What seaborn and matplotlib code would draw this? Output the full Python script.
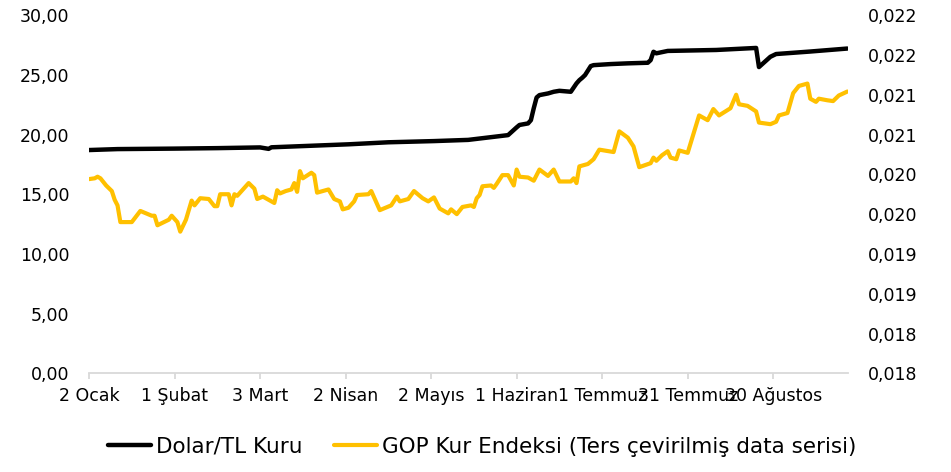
import pandas as pd
import seaborn as sns
import matplotlib.pyplot as plt

# Dolar/TL kuru (sol eksen)
dolar_tarih = [
    '2023-01-02', '2023-01-12', '2023-02-01', '2023-02-16', '2023-03-03', '2023-03-06', '2023-03-07', '2023-04-03', '2023-04-17', '2023-05-03',
    '2023-05-15', '2023-05-29', '2023-06-01', '2023-06-02', '2023-06-05', '2023-06-06', '2023-06-07', '2023-06-08', '2023-06-09', '2023-06-12',
    '2023-06-14', '2023-06-16', '2023-06-20', '2023-06-22', '2023-06-23', '2023-06-24', '2023-06-25', '2023-06-27', '2023-06-28', '2023-07-04',
    '2023-07-10', '2023-07-17', '2023-07-18', '2023-07-19', '2023-07-20', '2023-07-24', '2023-08-10', '2023-08-24', '2023-08-25', '2023-08-29',
    '2023-08-31', '2023-09-12', '2023-09-25',
]
dolar_tl = [
    18.70, 18.78, 18.82, 18.86, 18.92, 18.80, 18.93, 19.18, 19.35, 19.45,
    19.55, 19.95, 20.60, 20.80, 20.93, 21.20, 22.20, 23.10, 23.30, 23.44,
    23.58, 23.66, 23.58, 24.28, 24.55, 24.75, 24.98, 25.73, 25.81, 25.90,
    25.96, 26.01, 26.23, 26.93, 26.80, 27.00, 27.08, 27.25, 25.65, 26.51,
    26.74, 26.95, 27.20,
]

# GOP kur endeksi, ters cevrilmis (sag eksen)
gop_tarih = [
    '2023-01-02', '2023-01-04', '2023-01-05', '2023-01-06', '2023-01-08', '2023-01-10', '2023-01-11', '2023-01-12', '2023-01-13', '2023-01-17',
    '2023-01-20', '2023-01-22', '2023-01-24', '2023-01-25', '2023-01-26', '2023-01-30', '2023-01-31', '2023-02-02', '2023-02-03', '2023-02-05',
    '2023-02-07', '2023-02-08', '2023-02-10', '2023-02-13', '2023-02-15', '2023-02-16', '2023-02-17', '2023-02-20', '2023-02-21', '2023-02-22',
    '2023-02-23', '2023-02-27', '2023-03-01', '2023-03-02', '2023-03-04', '2023-03-08', '2023-03-09', '2023-03-10', '2023-03-12', '2023-03-14',
    '2023-03-15', '2023-03-16', '2023-03-17', '2023-03-18', '2023-03-21', '2023-03-22', '2023-03-23', '2023-03-27', '2023-03-29', '2023-03-31',
    '2023-04-01', '2023-04-03', '2023-04-05', '2023-04-06', '2023-04-10', '2023-04-11', '2023-04-14', '2023-04-18', '2023-04-20', '2023-04-21',
    '2023-04-24', '2023-04-26', '2023-04-29', '2023-05-01', '2023-05-03', '2023-05-05', '2023-05-08', '2023-05-09', '2023-05-11', '2023-05-13',
    '2023-05-16', '2023-05-17', '2023-05-18', '2023-05-19', '2023-05-20', '2023-05-23', '2023-05-24', '2023-05-25', '2023-05-27', '2023-05-29',
    '2023-05-31', '2023-06-01', '2023-06-02', '2023-06-05', '2023-06-07', '2023-06-09', '2023-06-12', '2023-06-14', '2023-06-16', '2023-06-20',
    '2023-06-21', '2023-06-22', '2023-06-23', '2023-06-26', '2023-06-28', '2023-06-30', '2023-07-05', '2023-07-07', '2023-07-10', '2023-07-12',
    '2023-07-14', '2023-07-18', '2023-07-19', '2023-07-20', '2023-07-22', '2023-07-24', '2023-07-25', '2023-07-27', '2023-07-28', '2023-07-31',
    '2023-08-04', '2023-08-07', '2023-08-09', '2023-08-11', '2023-08-15', '2023-08-17', '2023-08-18', '2023-08-21', '2023-08-24', '2023-08-25',
    '2023-08-29', '2023-08-31', '2023-09-01', '2023-09-04', '2023-09-06', '2023-09-08', '2023-09-11', '2023-09-12', '2023-09-14', '2023-09-15',
    '2023-09-18', '2023-09-20', '2023-09-22', '2023-09-25',
]
gop_endeks = [
    0.02044, 0.02045, 0.02047, 0.02045, 0.02036, 0.02029, 0.02018, 0.02011, 0.01990, 0.01990,
    0.02004, 0.02001, 0.01998, 0.01998, 0.01986, 0.01993, 0.01998, 0.01990, 0.01978, 0.01993,
    0.02017, 0.02011, 0.02020, 0.02019, 0.02010, 0.02010, 0.02025, 0.02025, 0.02011, 0.02025,
    0.02023, 0.02039, 0.02032, 0.02019, 0.02022, 0.02014, 0.02030, 0.02026, 0.02029, 0.02031,
    0.02039, 0.02028, 0.02054, 0.02045, 0.02052, 0.02049, 0.02027, 0.02031, 0.02019, 0.02016,
    0.02006, 0.02008, 0.02016, 0.02024, 0.02025, 0.02029, 0.02005, 0.02011, 0.02022, 0.02016,
    0.02019, 0.02029, 0.02020, 0.02016, 0.02021, 0.02007, 0.02001, 0.02006, 0.02000, 0.02009,
    0.02011, 0.02009, 0.02020, 0.02024, 0.02035, 0.02036, 0.02033, 0.02038, 0.02049, 0.02049,
    0.02036, 0.02056, 0.02047, 0.02046, 0.02042, 0.02056, 0.02048, 0.02056, 0.02041, 0.02041,
    0.02045, 0.02039, 0.02060, 0.02063, 0.02069, 0.02081, 0.02078, 0.02104, 0.02096, 0.02085,
    0.02059, 0.02064, 0.02071, 0.02067, 0.02074, 0.02079, 0.02071, 0.02069, 0.02080, 0.02077,
    0.02124, 0.02118, 0.02132, 0.02124, 0.02133, 0.02150, 0.02138, 0.02136, 0.02129, 0.02115,
    0.02113, 0.02116, 0.02124, 0.02127, 0.02152, 0.02161, 0.02164, 0.02145, 0.02141, 0.02145,
    0.02143, 0.02142, 0.02149, 0.02154,
]

x_tick_tarih = ['2023-01-02', '2023-02-01', '2023-03-03', '2023-04-02', '2023-05-02',
                '2023-06-01', '2023-07-01', '2023-07-31', '2023-08-30']
x_tick_etiket = ['2 Ocak', '1 Şubat', '3 Mart', '2 Nisan', '2 Mayıs',
                 '1 Haziran', '1 Temmuz', '31 Temmuz', '30 Ağustos']
sol_tick = [0, 5, 10, 15, 20, 25, 30]
sol_etiket = ['0,00', '5,00', '10,00', '15,00', '20,00', '25,00', '30,00']
sag_tick = [0.018, 0.0185, 0.019, 0.0195, 0.020, 0.0205, 0.021, 0.0215, 0.022, 0.0225]
sag_etiket = ['0,018', '0,018', '0,019', '0,019', '0,020', '0,020', '0,021', '0,021', '0,022', '0,022']

sns.set_theme(style='white')
plt.rcParams['font.family'] = ['DejaVu Sans']
plt.rcParams['text.color'] = 'black'
plt.rcParams['xtick.labelcolor'] = 'black'
plt.rcParams['ytick.labelcolor'] = 'black'

df_dolar = pd.DataFrame({'tarih': pd.to_datetime(dolar_tarih), 'deger': dolar_tl})
df_gop = pd.DataFrame({'tarih': pd.to_datetime(gop_tarih), 'deger': gop_endeks})

fig, ax = plt.subplots(figsize=(9.51, 4.72), dpi=100)
fig.subplots_adjust(left=0.0936, right=0.892, top=0.968, bottom=0.209)
ax2 = ax.twinx()

sns.lineplot(data=df_dolar, x='tarih', y='deger', ax=ax, color='black', linewidth=3.2,
             label='Dolar/TL Kuru', legend=False)
sns.lineplot(data=df_gop, x='tarih', y='deger', ax=ax2, color='#FFC000', linewidth=3.0,
             label='GOP Kur Endeksi (Ters çevirilmiş data serisi)', legend=False)

ax.set_xlim(pd.Timestamp('2023-01-02'), pd.Timestamp('2023-09-25 08:00'))
ax.set_ylim(0, 30)
ax2.set_ylim(0.018, 0.0225)

ax.set_xticks(pd.to_datetime(x_tick_tarih))
ax.set_xticklabels(x_tick_etiket)
ax.set_yticks(sol_tick)
ax.set_yticklabels(sol_etiket)
ax2.set_yticks(sag_tick)
ax2.set_yticklabels(sag_etiket)

for a in (ax, ax2):
    for s in ('top', 'left', 'right', 'bottom'):
        a.spines[s].set_visible(False)
ax.spines['bottom'].set_visible(True)
ax.spines['bottom'].set_color('#D9D9D9')
ax.spines['bottom'].set_linewidth(1.3)

ax.tick_params(axis='x', direction='out', length=4, width=1.3, color='#D9D9D9',
               labelsize=12.5, pad=6, bottom=True, labelcolor='black')
ax.tick_params(axis='y', length=0, labelsize=12.5, pad=14, labelcolor='black')
ax2.tick_params(axis='y', length=0, labelsize=12.5, pad=14, labelcolor='black')
ax.set_xlabel('')
ax.set_ylabel('')
ax2.set_ylabel('')
ax.grid(False)
ax2.grid(False)

h1, l1 = ax.get_legend_handles_labels()
h2, l2 = ax2.get_legend_handles_labels()
fig.legend(h1 + h2, l1 + l2, loc='center', bbox_to_anchor=(0.507, 0.053), ncol=2,
           frameon=False, fontsize=15.5, handlelength=2.0, handletextpad=0.25,
           columnspacing=1.45, labelcolor='black')

fig.savefig('out.png', dpi=100)
